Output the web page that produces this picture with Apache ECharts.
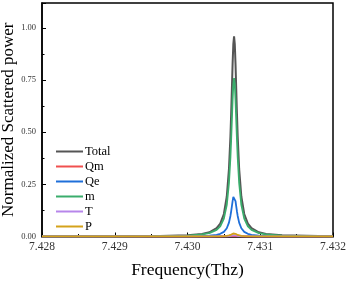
<!DOCTYPE html>
<html><head><meta charset="utf-8">
<script src="https://cdn.jsdelivr.net/npm/echarts@6/dist/echarts.min.js"></script>
<style>html,body{margin:0;padding:0;background:#fff}#c{width:349px;height:282px}</style>
</head><body><div id="c"></div>
<script>
const freq = [7.4280,7.4290,7.4295,7.4300,7.4302,7.4303,7.4304,7.43045,7.4305,7.43054,7.43057,7.43059,7.43060,7.43061,7.43062,7.43063,7.43064,7.43065,7.43066,7.43067,7.43068,7.43069,7.43071,7.43074,7.43078,7.43083,7.43088,7.43098,7.43108,7.4313,7.4318,7.4320];
const total = [0.0003,0.0009,0.0018,0.0059,0.0123,0.0204,0.040,0.062,0.108,0.192,0.324,0.48,0.586,0.706,0.828,0.923,0.96,0.923,0.828,0.706,0.586,0.48,0.324,0.192,0.108,0.062,0.040,0.0204,0.0123,0.0055,0.0018,0.0012];
const qm = [0,0,0,0,0,0,0,0,0.0001,0.0002,0.0003,0.0005,0.0006,0.0007,0.0008,0.0009,0.001,0.0009,0.0008,0.0007,0.0006,0.0005,0.0003,0.0002,0.0001,0,0,0,0,0,0,0];
const qe = [0.0001,0.0002,0.0004,0.0012,0.0025,0.0042,0.0082,0.0128,0.0223,0.0394,0.0666,0.0985,0.120,0.145,0.170,0.190,0.197,0.190,0.170,0.145,0.120,0.0985,0.0666,0.0394,0.0223,0.0128,0.0082,0.0042,0.0025,0.0011,0.0004,0.0002];
const m = [0.0003,0.0007,0.0014,0.0046,0.0097,0.0161,0.0317,0.049,0.086,0.152,0.257,0.38,0.464,0.559,0.655,0.731,0.76,0.731,0.655,0.559,0.464,0.38,0.257,0.152,0.086,0.049,0.0317,0.0161,0.0097,0.0043,0.0014,0.0009];
const t = [0,0,0,0,0,0.0001,0.0003,0.0004,0.0007,0.0012,0.002,0.003,0.0037,0.0044,0.0052,0.0058,0.006,0.0058,0.0052,0.0044,0.0037,0.003,0.002,0.0012,0.0007,0.0004,0.0003,0.0001,0,0,0,0];
const p = [0,0,0,0.0001,0.0002,0.0003,0.0006,0.001,0.0017,0.003,0.0051,0.0075,0.0092,0.011,0.0129,0.0144,0.015,0.0144,0.0129,0.011,0.0092,0.0075,0.0051,0.003,0.0017,0.001,0.0006,0.0003,0.0002,0.0001,0,0];
const names = ['Total','Qm','Qe','m','T','P'];
const colors = ['#555555','#f0504f','#1f6fd9','#3aad6c','#b786ea','#d4a21b'];
const values = [total, qm, qe, m, t, p];

const font = '"Liberation Serif","Times New Roman",serif';
const chart = echarts.init(document.getElementById('c'), null, {renderer:'canvas'});
chart.setOption({
  animation:false,
  grid:{left:42,right:16,top:3,bottom:45.5,show:true,borderColor:'#000',borderWidth:1.5,outerBoundsMode:'none',containLabel:false},
  legend:{left:50,top:140,orient:'vertical',itemWidth:27,itemHeight:14,itemGap:2,
    itemStyle:{opacity:0},
    textStyle:{fontFamily:font,fontSize:12.5,color:'#000',padding:[0,0,0,-3]},data:names},
  xAxis:{type:'value',min:7.428,max:7.432,interval:0.001,
    name:'Frequency(Thz)',nameLocation:'middle',nameGap:25,nameMoveOverlap:false,
    nameTextStyle:{fontFamily:font,fontSize:17.5,color:'#000',verticalAlign:'top'},
    axisLine:{lineStyle:{color:'#000',width:1.5}},
    axisTick:{inside:true,length:4,lineStyle:{color:'#000'}},
    minorTick:{show:true,splitNumber:2,length:2.5,lineStyle:{color:'#000'}},
    splitLine:{show:false},
    axisLabel:{fontFamily:font,fontSize:11.5,color:'#333',margin:4,formatter:v=>v.toFixed(3)}},
  yAxis:{type:'value',min:0,max:1.12,interval:0.25,
    name:'Normalized Scattered power',nameLocation:'middle',nameGap:25,nameRotate:90,nameMoveOverlap:false,
    nameTextStyle:{fontFamily:font,fontSize:17,color:'#000'},
    axisLine:{lineStyle:{color:'#000',width:1.5}},
    axisTick:{inside:true,length:4,lineStyle:{color:'#000'}},
    minorTick:{show:true,splitNumber:2,length:2.5,lineStyle:{color:'#000'}},
    splitLine:{show:false},
    axisLabel:{fontFamily:font,fontSize:8.5,color:'#333',margin:6,formatter:v=>v>1.01?'':v.toFixed(2)}},
  series: names.map((n,i)=>({
    name:n,type:'line',symbol:'none',smooth:false,color:colors[i],
    lineStyle:{width:i===0?2:1.8,color:colors[i]},
    data: freq.map((f,j)=>[f, values[i][j]])
  }))
});
</script></body></html>
